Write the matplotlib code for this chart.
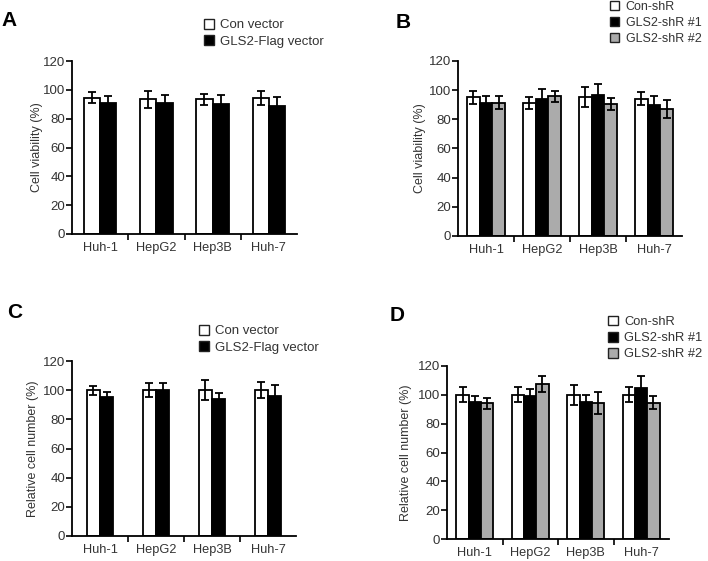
import matplotlib
matplotlib.use("Agg")
import matplotlib.pyplot as plt
from matplotlib.patches import Patch
import numpy as np

plt.rcParams['font.family'] = ['Liberation Sans', 'DejaVu Sans']
plt.rcParams['text.color'] = '#333333'
plt.rcParams['axes.labelcolor'] = '#333333'
plt.rcParams['xtick.color'] = 'black'
plt.rcParams['ytick.color'] = 'black'
plt.rcParams['xtick.labelcolor'] = '#333333'
plt.rcParams['ytick.labelcolor'] = '#333333'

cells = ['Huh-1', 'HepG2', 'Hep3B', 'Huh-7']

# A: cell viability, overexpression
a_labels = ['Con vector', 'GLS2-Flag vector']
a_con = [94.5, 93.5, 93.5, 94.5]
a_con_err = [3.8, 5.8, 3.8, 5.0]
a_gls = [91, 91.2, 90, 89]
a_gls_err = [5.0, 5.0, 6.5, 6.3]

# B: cell viability, knockdown
b_labels = ['Con-shR', 'GLS2-shR #1', 'GLS2-shR #2']
b_con = [95.1, 91.4, 95.3, 94.2]
b_con_err = [4.5, 4.0, 6.6, 4.3]
b_sh1 = [91.4, 93.7, 96.5, 90.0]
b_sh1_err = [4.8, 7.3, 7.8, 6.2]
b_sh2 = [91.4, 95.8, 90.5, 87.3]
b_sh2_err = [4.5, 3.9, 4.3, 6.2]

# C: relative cell number, overexpression
c_con = [100, 100, 100, 100]
c_con_err = [3.0, 4.6, 6.7, 5.5]
c_gls = [95.2, 100, 93.8, 96.0]
c_gls_err = [3.7, 4.8, 4.1, 7.6]

# D: relative cell number, knockdown
d_con = [100, 100, 100, 100]
d_con_err = [5.3, 5.3, 7.0, 5.3]
d_sh1 = [95.3, 98.9, 94.9, 104.9]
d_sh1_err = [4.2, 4.8, 4.9, 8.3]
d_sh2 = [94.1, 107.3, 94.6, 94.6]
d_sh2_err = [3.9, 5.5, 7.6, 4.4]

colors2 = ['white', 'black']
colors3 = ['white', 'black', '#ababab']

fig = plt.figure(figsize=(7.08, 5.61), dpi=100)


def panel(rect, series, errs, colors, width, ylabel, lpad):
    ax = fig.add_axes(rect)
    x = np.arange(len(cells))
    n = len(series)
    for i in range(n):
        pos = x + (i - (n - 1) / 2) * width
        ax.bar(pos, series[i], width, color=colors[i], edgecolor='black',
               linewidth=1.3, zorder=2)
        ax.errorbar(pos, series[i], yerr=errs[i], fmt='none', ecolor='black',
                    elinewidth=1.3, capsize=2.6, capthick=1.3, zorder=3)
    ax.set_xlim(-0.5, 3.5)
    ax.set_ylim(0, 120)
    ax.set_yticks([0, 20, 40, 60, 80, 100, 120])
    ax.set_xticks([0.5, 1.5, 2.5], minor=False)
    ax.set_xticklabels([])
    ax.set_xticks(x, minor=True)
    ax.set_xticklabels(cells, minor=True)
    ax.tick_params(axis='x', which='major', length=4, width=1.2)
    ax.tick_params(axis='x', which='minor', length=0, labelsize=9.2, pad=6)
    ax.tick_params(axis='y', length=4, width=1.2, labelsize=9.5, pad=1)
    ax.spines['top'].set_visible(False)
    ax.spines['right'].set_visible(False)
    ax.spines['left'].set_linewidth(1.3)
    ax.spines['bottom'].set_linewidth(1.3)
    ax.set_ylabel(ylabel, fontsize=9, labelpad=lpad)
    return ax


def legend(labels, colors, x, y, size=9.5):
    handles = [Patch(facecolor=c, edgecolor='#222222', linewidth=1.0) for c in colors]
    fig.legend(handles, labels, loc='upper left', bbox_to_anchor=(x, y),
               frameon=False, fontsize=size, handlelength=0.75, handleheight=0.75,
               handletextpad=0.5, labelspacing=0.3, borderpad=0,
               borderaxespad=0)


W, H = 708, 561


def rect(l, t, r, b):
    return [l / W, 1 - b / H, (r - l) / W, (b - t) / H]


panel(rect(72, 61, 297, 234), [a_con, a_gls], [a_con_err, a_gls_err],
      colors2, 0.29, 'Cell viability (%)', 0)
panel(rect(458, 61, 682, 236), [b_con, b_sh1, b_sh2],
      [b_con_err, b_sh1_err, b_sh2_err], colors3, 0.23, 'Cell viability (%)', 2)
panel(rect(72, 361, 296, 536), [c_con, c_gls], [c_con_err, c_gls_err],
      colors2, 0.24, 'Relative cell number (%)', 3)
panel(rect(447, 366, 669, 539), [d_con, d_sh1, d_sh2],
      [d_con_err, d_sh1_err, d_sh2_err], colors3, 0.22,
      'Relative cell number (%)', 4)

legend(a_labels, colors2, 204 / W, 1 - 19 / H)
legend(b_labels, colors3, 610 / W, 1 - 1 / H, size=9)
legend(a_labels, colors2, 199 / W, 1 - 325 / H)
legend(b_labels, colors3, 608 / W, 1 - 316 / H, size=9.3)

for letter, lx, ly in [('A', 1, 11), ('B', 396, 13), ('C', 7, 303), ('D', 390, 306)]:
    fig.text(lx / W, 1 - ly / H, letter, fontsize=15, fontweight='bold',
             color='black', ha='left', va='top')

fig.savefig('out.png', dpi=100)
